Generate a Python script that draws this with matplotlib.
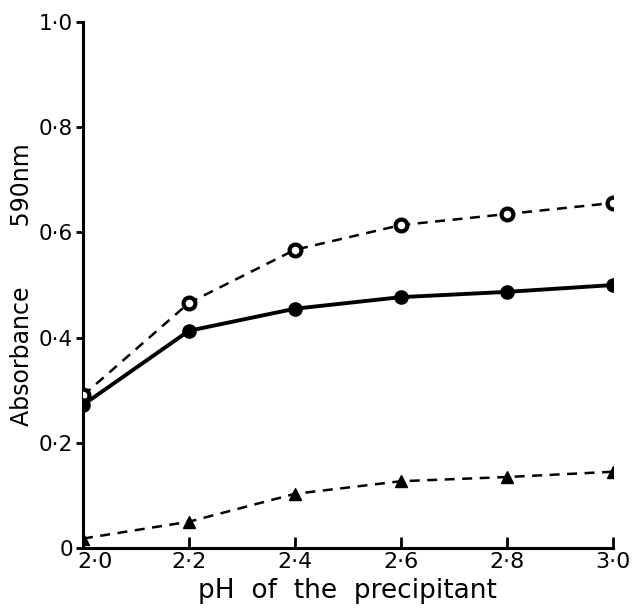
import matplotlib
matplotlib.use("Agg")
import matplotlib.pyplot as plt
import matplotlib.transforms as mtransforms

# pH of the precipitant
ph = [2.0, 2.2, 2.4, 2.6, 2.8, 3.0]
# absorbance at 590 nm
abs_open = [0.29, 0.466, 0.567, 0.614, 0.635, 0.656]
abs_solid = [0.272, 0.413, 0.455, 0.477, 0.487, 0.500]
abs_tri = [0.018, 0.050, 0.103, 0.127, 0.135, 0.145]

xticks = [2.0, 2.2, 2.4, 2.6, 2.8, 3.0]
xtick_labels = ["2·0", "2·2", "2·4", "2·6", "2·8", "3·0"]
yticks = [0, 0.2, 0.4, 0.6, 0.8, 1.0]
ytick_labels = ["0", "0·2", "0·4", "0·6", "0·8", "1·0"]

fig = plt.figure(figsize=(6.33, 6.13), dpi=100)
ax = fig.add_axes([0.131, 0.106, 0.837, 0.858])

ax.plot(ph, abs_open, color="black", lw=1.8, ls=(0, (4, 3)),
        marker="o", ms=8.5, mfc="white", mec="black", mew=3.0, zorder=3)
ax.plot(ph, abs_solid, color="black", lw=2.8, ls="-",
        marker="o", ms=9.5, mfc="black", mec="black", zorder=3)
ax.plot(ph, abs_tri, color="black", lw=1.8, ls=(0, (4, 3)),
        marker="^", ms=8.5, mfc="black", mec="black", zorder=3)

ax.set_xlim(2.0, 3.0)
ax.set_ylim(0, 1.0)
ax.set_xticks(xticks)
ax.set_xticklabels(xtick_labels)
ax.set_yticks(yticks)
ax.set_yticklabels(ytick_labels)

for side in ("top", "right"):
    ax.spines[side].set_visible(False)
for side in ("left", "bottom"):
    ax.spines[side].set_linewidth(2.2)

ax.tick_params(axis="x", direction="in", length=8, width=2, labelsize=16, pad=3)
ax.tick_params(axis="y", direction="out", length=5, width=2, labelsize=15.5, pad=2)

# the first x label sits a little right of the axis, as in the original
first = ax.get_xticklabels()[0]
first.set_transform(first.get_transform() +
                    mtransforms.ScaledTranslation(9 / 72, 0, fig.dpi_scale_trans))

ax.set_xlabel("pH  of  the  precipitant", fontsize=19, labelpad=4)
ax.set_ylabel("Absorbance        590nm", fontsize=17)
ax.yaxis.set_label_coords(-0.092, 0.50)

fig.savefig("out.png", dpi=100)
